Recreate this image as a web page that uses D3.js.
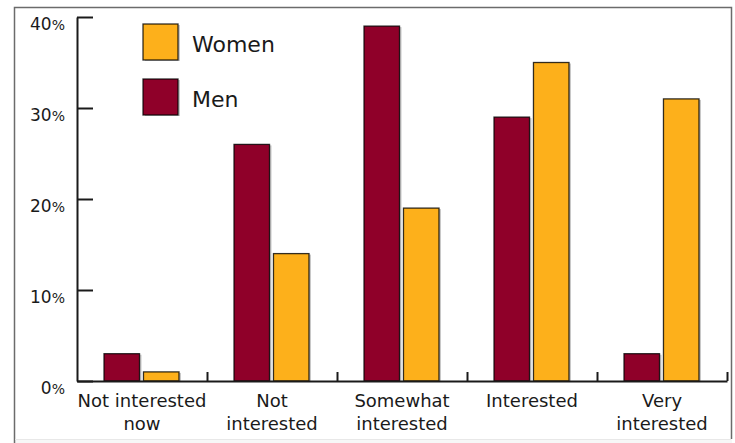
<!DOCTYPE html>
<html>
<head>
<meta charset="utf-8">
<script src="https://cdn.jsdelivr.net/npm/d3@7"></script>
<style>
  body { margin: 0; background: #fff; }
  svg text { font-family: "DejaVu Sans", sans-serif; fill: #1a1a1a; }
</style>
</head>
<body>
<script>
// data
var categories = ["Not interested\nnow", "Not\ninterested", "Somewhat\ninterested", "Interested", "Very\ninterested"];
var series = ["Men", "Women"];
var men = [3, 26, 39, 29, 3];
var women = [1, 14, 19, 35, 31];
var yTicks = [0, 10, 20, 30, 40];
var colors = { Men: "#8f0029", Women: "#fdb01b" };

var width = 735,
    height = 443;

var svg = d3.select("body").append("svg")
    .attr("width", width)
    .attr("height", height);

// frame round the picture
svg.append("rect").attr("x", 15).attr("y", 439).attr("width", 717).attr("height", 4).attr("fill", "#f7f7f7");
svg.append("path")
    .attr("d", "M14.5,443 V7.5 H731.5 V439")
    .attr("fill", "none").attr("stroke", "#6b6b6b").attr("stroke-width", 1.5);
svg.append("line").attr("x1", 15).attr("x2", 731).attr("y1", 439.5).attr("y2", 439.5)
    .attr("stroke", "#e8e8e8");

var x = d3.scaleBand()
    .domain(categories)
    .range([77, 727]);

var xs = d3.scaleBand()
    .domain(series)
    .range([27, 102])
    .paddingInner(0.1);

var y = d3.scaleLinear()
    .domain([0, 40])
    .range([381, 17]);

var rows = categories.map(function (c, i) {
    return { cat: c, values: [{ key: "Men", v: men[i] }, { key: "Women", v: women[i] }] };
});

var group = svg.selectAll(".cat")
    .data(rows)
    .enter().append("g")
    .attr("class", "cat")
    .attr("transform", function (d) { return "translate(" + x(d.cat) + ",0)"; });

// light shadow on the right of each bar
group.selectAll(".shadow")
    .data(function (d) { return d.values; })
    .enter().append("rect")
    .attr("x", function (d) { return xs(d.key) + 2; })
    .attr("y", function (d) { return y(d.v) + 1; })
    .attr("width", xs.bandwidth())
    .attr("height", function (d) { return y(0) - y(d.v) - 1; })
    .attr("fill", "#c8c8c8");

group.selectAll(".bar")
    .data(function (d) { return d.values; })
    .enter().append("rect")
    .attr("class", "bar")
    .attr("x", function (d) { return xs(d.key); })
    .attr("y", function (d) { return y(d.v); })
    .attr("width", xs.bandwidth())
    .attr("height", function (d) { return y(0) - y(d.v); })
    .attr("fill", function (d) { return colors[d.key]; })
    .attr("stroke", "rgba(0,0,0,0.8)")
    .attr("stroke-width", 1.3);

// y axis, ticks pointing inward
var yAxis = d3.axisLeft(y)
    .tickValues(yTicks)
    .tickSizeInner(-16)
    .tickSizeOuter(0)
    .tickPadding(12)
    .tickFormat(function (d) { return d; });

var ya = svg.append("g")
    .attr("transform", "translate(77,0)")
    .call(yAxis);
ya.select(".domain").attr("stroke", "#1a1a1a").attr("stroke-width", 2);
ya.selectAll(".tick line").attr("stroke", "#1a1a1a").attr("stroke-width", 2);
ya.selectAll(".tick text")
    .attr("font-size", 17)
    .attr("dy", 12)
    .attr("font-family", "DejaVu Sans, sans-serif")
    .append("tspan").attr("font-size", 14).text("%");

// x axis baseline with small upward ticks between groups
var xi = d3.scaleLinear().domain([0, categories.length]).range([77, 727]);
var xAxis = d3.axisTop(xi)
    .tickValues(d3.range(1, categories.length + 1))
    .tickSizeInner(9)
    .tickSizeOuter(0)
    .tickFormat("");
var xa = svg.append("g")
    .attr("transform", "translate(0,381)")
    .call(xAxis);
xa.select(".domain").attr("stroke", "#1a1a1a").attr("stroke-width", 2);
xa.selectAll(".tick line").attr("stroke", "#1a1a1a").attr("stroke-width", 2);

// category labels
var xl = svg.append("g")
    .attr("transform", "translate(0,381)")
    .call(d3.axisBottom(x).tickSize(0).tickFormat(""));
xl.select(".domain").remove();
xl.selectAll(".tick").each(function (d) {
    var t = d3.select(this).append("text")
        .attr("text-anchor", "middle")
        .attr("font-size", 18)
        .attr("fill", "#1a1a1a");
    d.split("\n").forEach(function (line, i) {
        t.append("tspan").attr("x", 0).attr("y", 26 + i * 23).text(line);
    });
});

// legend
var legend = svg.selectAll(".legend")
    .data(["Women", "Men"])
    .enter().append("g")
    .attr("class", "legend")
    .attr("transform", function (d, i) { return "translate(143," + (24 + i * 55) + ")"; });
legend.append("rect")
    .attr("x", 2).attr("y", 1)
    .attr("width", 35).attr("height", 36)
    .attr("fill", "#c8c8c8");
legend.append("rect")
    .attr("width", 35).attr("height", 36)
    .attr("fill", function (d) { return colors[d]; })
    .attr("stroke", "rgba(0,0,0,0.8)")
    .attr("stroke-width", 1.3);
legend.append("text")
    .attr("x", 49).attr("y", 28)
    .attr("font-size", 22)
    .text(function (d) { return d; });
</script>
</body>
</html>
